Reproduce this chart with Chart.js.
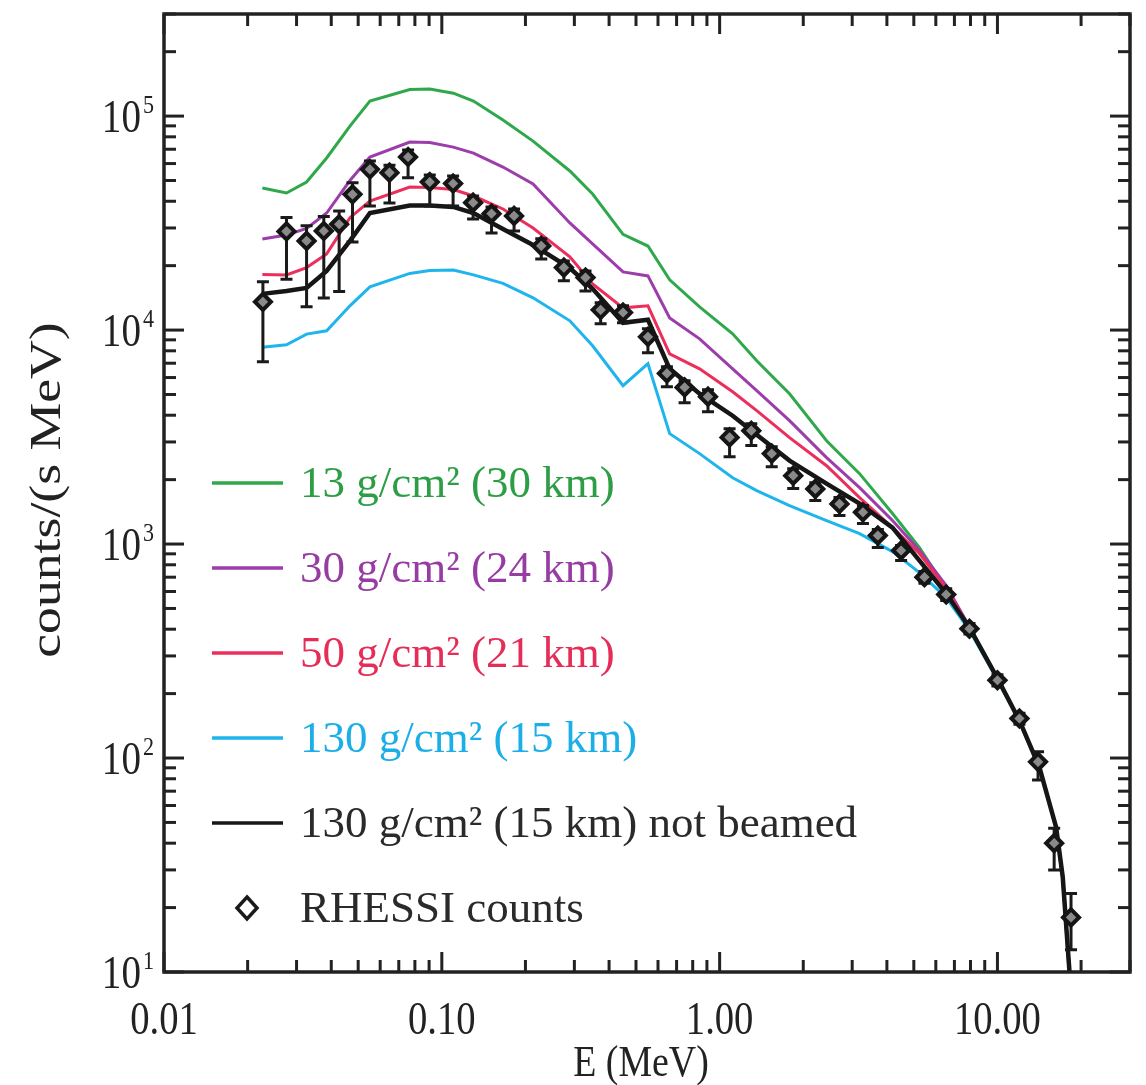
<!DOCTYPE html>
<html>
<head>
<meta charset="utf-8">
<script src="https://cdn.jsdelivr.net/npm/chart.js@4.4.0/dist/chart.umd.min.js"></script>
<style>
  html, body { margin: 0; padding: 0; background: #fff; }
  #wrap { width: 1146px; height: 1085px; }
</style>
</head>
<body>
<div id="wrap"><canvas id="myChart" width="1146" height="1085"></canvas></div>
<script>
// tick values
let xTicks = [0.01, 0.1, 1, 10]
let yTicks = [10, 100, 1000, 10000, 100000]
let yTickExp = ['1', '2', '3', '4', '5']

// model curves (energy in MeV, counts/(s MeV))
let modelE = [0.0226, 0.0276, 0.0326, 0.0385, 0.0467, 0.0551, 0.0767, 0.0905, 0.110, 0.130,
    0.166, 0.213, 0.289, 0.349, 0.449, 0.552, 0.661, 0.847, 1.114, 1.36,
    1.785, 2.426, 3.19, 4.19, 5.24, 6.54, 7.93, 10.0, 12.0, 14.16,
    16.26, 17.18, 18.15, 18.6]

let depth13 = [46100, 43700, 49200, 63700, 89800, 117500, 133200, 133700, 128000, 117500,
    95800, 76400, 55400, 43250, 28000, 24700, 17160, 12840, 9605, 7190,
    5040, 3040, 2133, 1388, 963, 620, 412, 236, 150, 90.5,
    47.5, 27.8, 10.2, 6]

let depth30 = [26670, 27840, 29850, 35240, 50000, 64370, 75600, 75200, 71620, 67140,
    57800, 48150, 31680, 25270, 18700, 17910, 11400, 9100, 6590, 5206,
    3771, 2533, 1835, 1288, 933, 640, 410, 236, 150, 90.5,
    47.5, 27.8, 10.2, 6]

let depth50 = [18200, 18110, 19590, 22700, 33520, 40110, 46630, 46380, 45390, 42320,
    36810, 30000, 21980, 16440, 12700, 12980, 7745, 6590, 5150, 4200,
    3141, 2324, 1648, 1194, 903, 620, 407, 235, 150, 90.5,
    47.5, 27.8, 10.2, 6]

let depth130 = [8310, 8536, 9572, 9920, 12980, 15920, 18400, 19000, 19100, 18110,
    16520, 14150, 11050, 8445, 5495, 6960, 3280, 2646, 2042, 1778,
    1513, 1288, 1119, 922, 736, 562, 395, 232, 148, 90,
    47, 27, 9.5, 5]

let depth130nb = [14760, 15240, 15740, 18900, 26100, 35240, 38220, 38220, 37610, 35240,
    29690, 25000, 19500, 15600, 10810, 11170, 6590, 5040, 3979, 3245,
    2454, 1917, 1545, 1194, 837, 587, 407, 235.6, 150, 90.5,
    47.5, 27.8, 10.2, 6]

// RHESSI measured counts with error bar ends
let rhessiE = [0.0227, 0.0276, 0.0326, 0.0376, 0.0427, 0.0477, 0.0551, 0.0648, 0.0756, 0.0905,
    0.1098, 0.1296, 0.151, 0.182, 0.228, 0.275, 0.329, 0.373, 0.449, 0.552,
    0.646, 0.748, 0.908, 1.086, 1.30, 1.54, 1.84, 2.21, 2.70, 3.28,
    3.71, 4.50, 5.46, 6.54, 7.93, 10.0, 12.0, 14.0, 16.0, 18.4]
let rhessiCounts = [13550, 28900, 26100, 29050, 31230, 43100, 56400, 54400, 64400, 49200,
    48400, 39400, 35000, 34150, 24740, 19590, 17590, 12430, 12080, 9300,
    6270, 5394, 4882, 3150, 3386, 2646, 2088, 1810, 1540, 1408,
    1096, 933, 700, 581, 402, 231, 153, 96, 40, 18]
let rhessiHigh = [16800, 33600, 30700, 33960, 36030, 48800, 61700, 59000, 69400, 53000,
    52500, 42300, 37600, 36800, 26700, 21000, 18900, 13400, 12980, 10140,
    6740, 5800, 5260, 3460, 3650, 2850, 2250, 1936, 1648, 1513,
    1169, 984, 745, 618, 425, 245, 162, 107, 47, 23.3]
let rhessiLow = [7110, 17300, 12840, 14140, 15140, 25800, 38000, 39300, 51500, 38000,
    38000, 33050, 28440, 29050, 21510, 16980, 15240, 10700, 10810, 7830,
    5430, 4575, 4153, 2560, 2884, 2300, 1816, 1596, 1358, 1247,
    963, 837, 655, 545, 380, 217, 144, 79, 30, 12.7]


let serif = "'Liberation Serif', 'Times New Roman', serif"

function pairs(xs, ys) {
    return xs.map(function(x, i) {
        return { x: x, y: ys[i] }
    })
}

// text with horizontal squeeze, the original figure is a bit condensed
function putText(ctx, str, x, y, size, sx, align) {
    ctx.save()
    ctx.translate(x, y)
    ctx.scale(sx, 1)
    ctx.font = size + 'px ' + serif
    ctx.textAlign = align || 'left'
    ctx.textBaseline = 'alphabetic'
    ctx.fillText(str, 0, 0)
    ctx.restore()
}

function textWidth(ctx, str, size, sx) {
    ctx.save()
    ctx.font = size + 'px ' + serif
    let w = ctx.measureText(str).width * sx
    ctx.restore()
    return w
}


// error bars, drawn just before the diamonds
let errorBars = {
    id: 'errorBars',
    beforeDatasetDraw(chart, args) {
        if (chart.data.datasets[args.index].label !== 'RHESSI counts') return
        let ctx = chart.ctx
        let xs = chart.scales.x
        let ys = chart.scales.y
        ctx.save()
        ctx.strokeStyle = '#1a1a1a'
        ctx.lineWidth = 3
        rhessiE.forEach(function(e, i) {
            let px = xs.getPixelForValue(e)
            let top = ys.getPixelForValue(rhessiHigh[i])
            let bot = ys.getPixelForValue(Math.max(rhessiLow[i], ys.min))
            ctx.beginPath()
            ctx.moveTo(px, top)
            ctx.lineTo(px, bot)
            ctx.moveTo(px - 6, top)
            ctx.lineTo(px + 6, top)
            ctx.moveTo(px - 6, bot)
            ctx.lineTo(px + 6, bot)
            ctx.stroke()
        })
        ctx.restore()
    }
}

// box, inward ticks on all four sides, tick labels, titles
let frameTicks = {
    id: 'frameTicks',
    afterDraw(chart) {
        let ctx = chart.ctx
        let a = chart.chartArea
        let xs = chart.scales.x
        let ys = chart.scales.y
        ctx.save()
        ctx.strokeStyle = '#222'
        ctx.fillStyle = '#222'
        ctx.lineWidth = 3

        function seg(x1, y1, x2, y2) {
            ctx.beginPath()
            ctx.moveTo(x1, y1)
            ctx.lineTo(x2, y2)
            ctx.stroke()
        }

        for (let k = -2; k <= 1; k++) {
            for (let m = 1; m <= 9; m++) {
                let v = m * Math.pow(10, k)
                if (v < xs.min || v > xs.max) continue
                let px = xs.getPixelForValue(v)
                let len = m == 1 ? 20 : 12
                seg(px, a.bottom, px, a.bottom - len)
                seg(px, a.top, px, a.top + len)
            }
        }
        for (let k = 1; k <= 5; k++) {
            for (let m = 1; m <= 9; m++) {
                let v = m * Math.pow(10, k)
                if (v < ys.min || v > ys.max) continue
                let py = ys.getPixelForValue(v)
                let len = m == 1 ? 20 : 12
                seg(a.left, py, a.left + len, py)
                seg(a.right, py, a.right - len, py)
            }
        }
        ctx.lineWidth = 3.5
        ctx.strokeRect(a.left, a.top, a.right - a.left, a.bottom - a.top)

        // x tick labels
        xTicks.forEach(function(v) {
            putText(ctx, v.toFixed(2), xs.getPixelForValue(v), 1034, 46, 0.84, 'center')
        })
        // y tick labels 10^n
        yTicks.forEach(function(v, i) {
            let py = ys.getPixelForValue(v)
            let ew = textWidth(ctx, yTickExp[i], 26, 0.85)
            putText(ctx, yTickExp[i], 154, py - 3, 26, 0.85, 'right')
            putText(ctx, '10', 152 - ew, py + 16, 46, 0.85, 'right')
        })

        // axis titles
        putText(ctx, 'E (MeV)', 641, 1076, 44, 0.86, 'center')
        ctx.save()
        ctx.translate(60, 490)
        ctx.rotate(-Math.PI / 2)
        putText(ctx, 'counts/(s MeV)', 0, 0, 44, 1.22, 'center')
        ctx.restore()

        ctx.restore()
    }
}

// legend inside the plot, lower left
let insideLegend = {
    id: 'insideLegend',
    afterDraw(chart) {
        let ctx = chart.ctx
        ctx.save()
        chart.data.datasets.forEach(function(ds, i) {
            let y = 483 + i * 85
            if (ds.label === 'RHESSI counts') {
                ctx.strokeStyle = '#1a1a1a'
                ctx.lineWidth = 3.5
                ctx.beginPath()
                ctx.moveTo(247, y - 11)
                ctx.lineTo(257, y)
                ctx.lineTo(247, y + 11)
                ctx.lineTo(237, y)
                ctx.closePath()
                ctx.stroke()
            } else {
                ctx.strokeStyle = ds.borderColor
                ctx.lineWidth = 3.5
                ctx.beginPath()
                ctx.moveTo(212, y)
                ctx.lineTo(283, y)
                ctx.stroke()
            }
            ctx.fillStyle = ds.textColor
            putText(ctx, ds.label, 300, y + 14, 45, 1.0, 'left')
        })
        ctx.restore()
    }
}


let chart1 = document.getElementById('myChart')

let spectrumChart = new Chart(chart1, {
    type: 'line',
    data: {
        datasets: [{
                label: '13 g/cm\u00b2 (30 km)',
                data: pairs(modelE, depth13),
                borderColor: '#2fa84b',
                textColor: '#2d9e45',
                borderWidth: 3,
                pointRadius: 0,
                order: 5
            },
            {
                label: '30 g/cm\u00b2 (24 km)',
                data: pairs(modelE, depth30),
                borderColor: '#9d3dab',
                textColor: '#963ca3',
                borderWidth: 3,
                pointRadius: 0,
                order: 4
            },
            {
                label: '50 g/cm\u00b2 (21 km)',
                data: pairs(modelE, depth50),
                borderColor: '#ec2e5b',
                textColor: '#e52d58',
                borderWidth: 3,
                pointRadius: 0,
                order: 3
            },
            {
                label: '130 g/cm\u00b2 (15 km)',
                data: pairs(modelE, depth130),
                borderColor: '#1fb5ec',
                textColor: '#1caee6',
                borderWidth: 3,
                pointRadius: 0,
                order: 2
            },
            {
                label: '130 g/cm\u00b2 (15 km) not beamed',
                data: pairs(modelE, depth130nb),
                borderColor: '#161616',
                textColor: '#2a2a2a',
                borderWidth: 4.5,
                pointRadius: 0,
                order: 1
            },
            {
                label: 'RHESSI counts',
                data: pairs(rhessiE, rhessiCounts),
                showLine: false,
                borderColor: '#151515',
                backgroundColor: '#ffffff',
                textColor: '#2a2a2a',
                pointStyle: 'rectRot',
                pointRadius: 8,
                pointBorderWidth: 4,
                pointBackgroundColor: '#8a8a8a',
                order: 0
            }
        ]
    },
    options: {
        responsive: false,
        animation: false,
        devicePixelRatio: 1,
        layout: { padding: { top: 14, right: 16, left: 0, bottom: 0 } },
        plugins: {
            legend: { display: false },
            tooltip: { enabled: false }
        },
        elements: { line: { tension: 0 } },
        scales: {
            x: {
                type: 'logarithmic',
                min: 0.01,
                max: 30,
                grid: { display: false },
                border: { display: false },
                ticks: { display: false },
                afterFit: function(scale) { scale.width = scale.width; scale.height = 113 }
            },
            y: {
                type: 'logarithmic',
                min: 10,
                max: 300000,
                grid: { display: false },
                border: { display: false },
                ticks: { display: false },
                afterFit: function(scale) { scale.width = 164 }
            }
        }
    },
    plugins: [errorBars, frameTicks, insideLegend]
})
</script>
</body>
</html>
